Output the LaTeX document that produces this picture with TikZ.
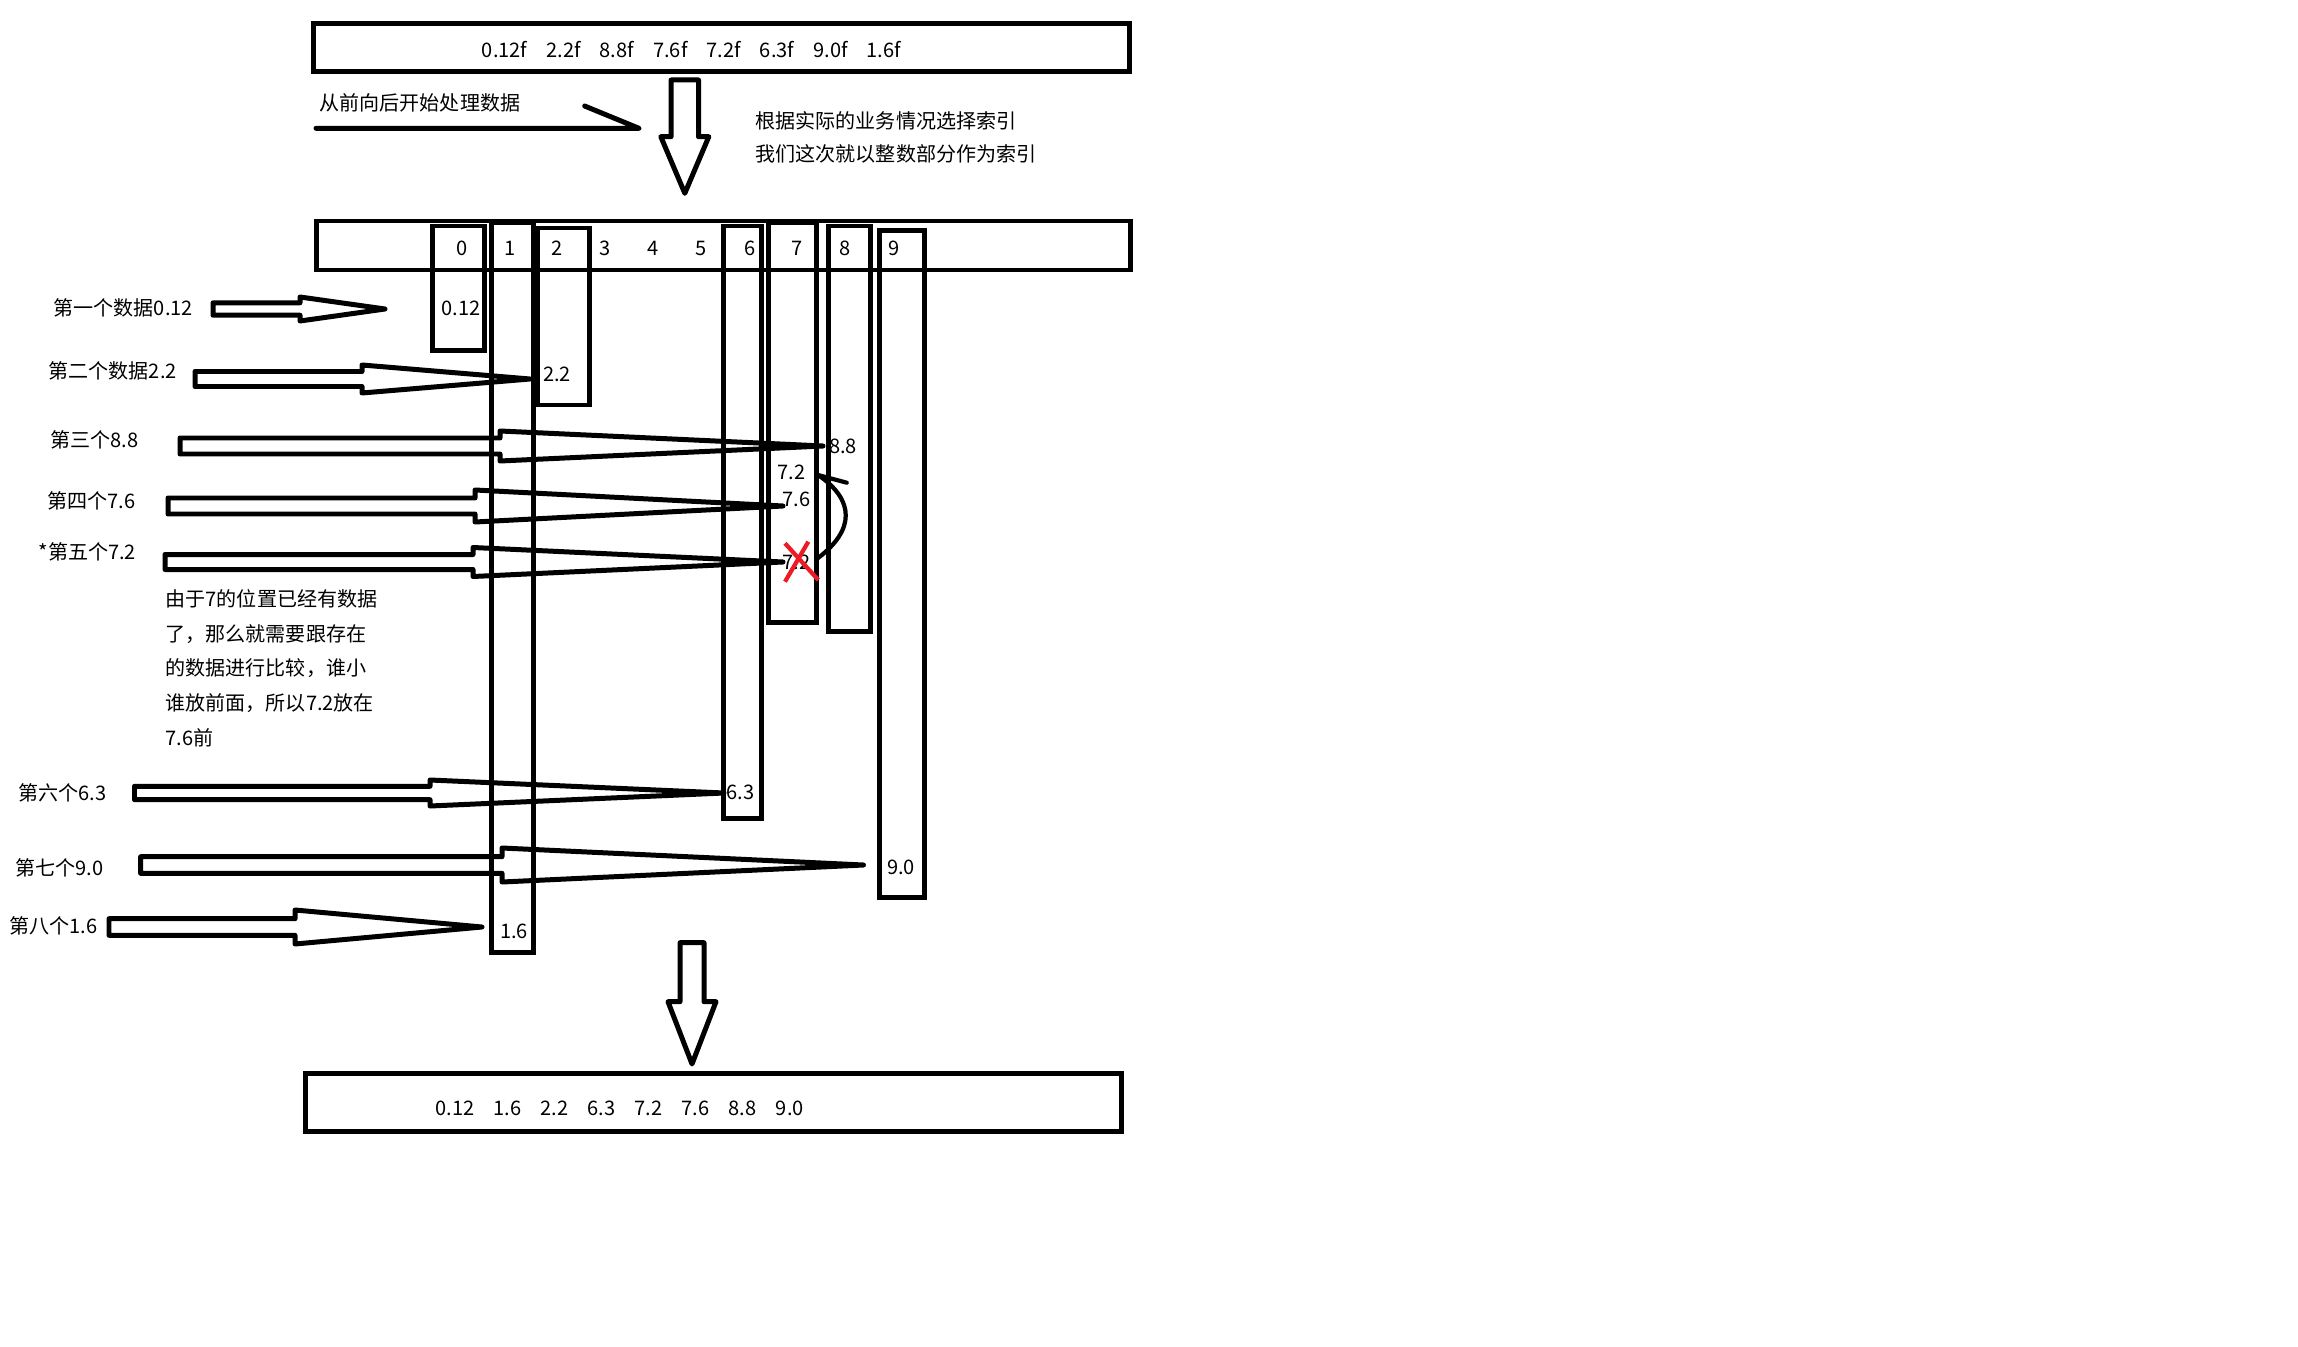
\documentclass[tikz,border=0pt]{standalone}
\usepackage{fontspec}
\setmainfont{Noto Sans CJK SC}
\definecolor{xred}{RGB}{237,28,36}
\newcommand\myharrow[6]{\draw[arr] (#1,#4-#5) -- (#2,#4-#5) -- (#2,#4-#6) -- (#3,#4) -- (#2,#4+#6) -- (#2,#4+#5) -- (#1,#4+#5) -- cycle;}
\newcommand\myvarrow[6]{\draw[arr] (#1-#5,#2) -- (#1+#5,#2) -- (#1+#5,#3) -- (#1+#6,#3) -- (#1,#4) -- (#1-#6,#3) -- (#1-#5,#3) -- cycle;}
\begin{document}
\begin{tikzpicture}[x=0.01cm,y=-0.01cm,
  every node/.style={inner sep=0pt,font=\fontsize{5.7pt}{6.8pt}\selectfont},
  box/.style={draw,line width=1.42pt},
  arr/.style={draw,line width=1.42pt,line join=round},
  thinln/.style={line width=1.2pt,line cap=round}]
\useasboundingbox[fill=white] (0,0) rectangle (2298,1346);

% top source box
\draw[box] (313.6,24) rectangle (1129.6,71.7);
\node (src) at (691.5,50) {0.12f\hspace{0.95em}2.2f\hspace{0.95em}8.8f\hspace{0.95em}7.6f\hspace{0.95em}7.2f\hspace{0.95em}6.3f\hspace{0.95em}9.0f\hspace{0.95em}1.6f};

% process direction
\node[anchor=west] (dir) at (319,103.3) {从前向后开始处理数据};
\coordinate (d0) at (316,128.3);
\coordinate (d1) at (638.9,128.3);
\coordinate (d2) at (584.6,106);
\draw[line width=1.42pt,line join=round,line cap=round] (d0) -- (d1) -- (d2);

% first down arrow
\myvarrow{684.8}{80}{136.7}{193.3}{13.7}{24}
\node[anchor=west] (n1) at (755,120.5) {根据实际的业务情况选择索引};
\node[anchor=west] (n2) at (755,154) {我们这次就以整数部分作为索引};

% index bar
\draw[box] (316.6,221) rectangle (1130,270);
\draw[box] (432.6,226) rectangle (484.5,350.7);
\draw[box] (491,223) rectangle (533.5,952);
\draw[box] (537,228) rectangle (589,405);
\draw[box] (723,226) rectangle (761,818);
\draw[box] (768.5,223) rectangle (816,622.7);
\draw[box] (828,226) rectangle (870,631);
\draw[box] (879,230.7) rectangle (924,897);
\foreach \i/\x in {0/461.6,1/510,2/557,3/605.5,4/653,5/701,6/749.7,7/797,8/845,9/893.6}
  \node (i\i) at (\x,248) {\i};

% cell values
\node (v012) at (460.8,308) {0.12};
\node (v22) at (557,374) {2.2};
\node (v88) at (843,446) {8.8};
\node (v72) at (791.7,472.7) {7.2};
\node (v76) at (796.7,499) {7.6};
\node (v72x) at (796.7,562) {7.2};
\node (v63) at (740.5,792.7) {6.3};
\node (v90) at (901,867.3) {9.0};
\node (v16) at (514,931.7) {1.6};

% left labels
\node[anchor=west] (l1) at (53,308) {第一个数据0.12};
\node[anchor=west] (l2) at (48,371) {第二个数据2.2};
\node[anchor=west] (l3) at (50,440) {第三个8.8};
\node[anchor=west] (l4) at (46.7,500.7) {第四个7.6};
\node[anchor=west] (l5) at (38,551.7) {*第五个7.2};
\node[anchor=west] (l6) at (18,793) {第六个6.3};
\node[anchor=west] (l7) at (15,868) {第七个9.0};
\node[anchor=west] (l8) at (9,925.7) {第八个1.6};

% block arrows
\myharrow{213}{300}{385}{309}{6.2}{12}
\myharrow{195}{362}{530}{379}{7.5}{14}
\myharrow{180}{500}{823}{446}{8}{15}
\myharrow{168}{475}{783}{506}{8}{16}
\myharrow{165}{473}{783}{562}{7.5}{14.5}
\myharrow{134.5}{430}{724}{793}{6.7}{13}
\myharrow{140.6}{502}{863.5}{865}{8.3}{17}
\myharrow{109}{295}{482}{927}{8.3}{17}

% explanation
\node[anchor=north west,align=left,font=\fontsize{5.7pt}{9.85pt}\selectfont] (expl) at (165,589)
  {由于7的位置已经有数据\\了，那么就需要跟存在\\的数据进行比较，谁小\\谁放前面，所以7.2放在\\7.6前};

% red cross
\draw[xred,line width=1.2pt] (785,581.7) -- (808.3,541.7);
\draw[xred,line width=1.2pt] (785,543.3) -- (818.3,580);

% curved move arrow
\coordinate (c0) at (818,558);
\coordinate (c1) at (818,475);
\coordinate (c2) at (846.7,482.7);
\draw[thinln,line join=round] (c0) .. controls (855,530) and (855,500) .. (c1) -- (c2);

% second down arrow
\myvarrow{692}{942.7}{1001.7}{1064}{12}{24}

% result box
\draw[box] (305,1073) rectangle (1121.8,1131.7);
\node (res) at (619.5,1108.3) {0.12\hspace{0.96em}1.6\hspace{0.96em}2.2\hspace{0.96em}6.3\hspace{0.96em}7.2\hspace{0.96em}7.6\hspace{0.96em}8.8\hspace{0.96em}9.0};
\end{tikzpicture}
\end{document}
